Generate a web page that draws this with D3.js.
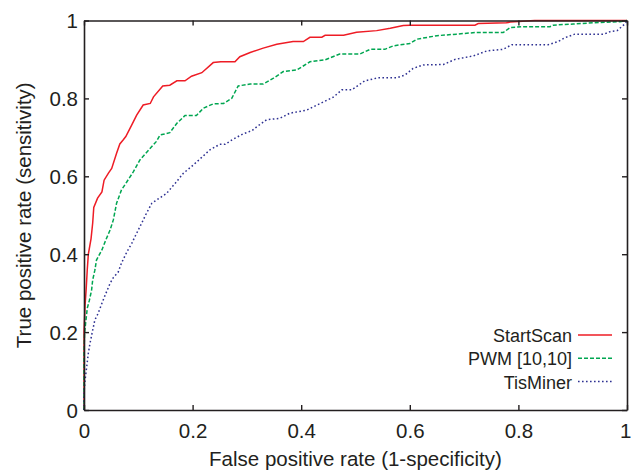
<!DOCTYPE html>
<html>
<head>
<meta charset="utf-8">
<script src="https://cdn.jsdelivr.net/npm/d3@7"></script>
<style>
  body { margin: 0; background: #fff; }
  svg { display: block; font-family: "Liberation Sans", Arial, sans-serif; }
</style>
</head>
<body>
<div id="chart"></div>
<script>
// ROC curves
const seriesNames = ["StartScan", "PWM [10,10]", "TisMiner"];

const startScanFpr = [0, 0, 0.002, 0.004, 0.006, 0.008, 0.013, 0.016, 0.018, 0.025, 0.033, 0.037, 0.045, 0.051, 0.060, 0.066, 0.072, 0.077, 0.088, 0.097, 0.109, 0.122, 0.128, 0.145, 0.158, 0.171, 0.186, 0.198, 0.217, 0.238, 0.252, 0.278, 0.287, 0.306, 0.330, 0.355, 0.385, 0.404, 0.416, 0.438, 0.444, 0.478, 0.502, 0.539, 0.564, 0.588, 0.600, 0.720, 0.726, 0.778, 0.785, 0.815, 0.83, 1];
const startScanTpr = [0, 0.20, 0.27, 0.31, 0.36, 0.40, 0.44, 0.48, 0.52, 0.544, 0.56, 0.59, 0.608, 0.62, 0.659, 0.683, 0.693, 0.702, 0.732, 0.757, 0.783, 0.787, 0.804, 0.832, 0.834, 0.845, 0.845, 0.857, 0.866, 0.892, 0.894, 0.894, 0.907, 0.918, 0.929, 0.939, 0.946, 0.946, 0.957, 0.957, 0.962, 0.962, 0.970, 0.974, 0.980, 0.987, 0.988, 0.988, 0.992, 0.994, 0.996, 0.999, 1, 1];

const pwmFpr = [0, 0, 0.001, 0.003, 0.006, 0.010, 0.014, 0.016, 0.020, 0.023, 0.033, 0.040, 0.048, 0.054, 0.060, 0.069, 0.079, 0.091, 0.103, 0.122, 0.133, 0.140, 0.158, 0.171, 0.186, 0.207, 0.220, 0.238, 0.257, 0.272, 0.284, 0.306, 0.330, 0.349, 0.367, 0.392, 0.416, 0.444, 0.471, 0.508, 0.527, 0.554, 0.570, 0.600, 0.613, 0.650, 0.686, 0.720, 0.772, 0.785, 0.809, 0.858, 0.864, 0.901, 0.938, 0.987, 1];
const pwmTpr = [0, 0.15, 0.197, 0.223, 0.261, 0.282, 0.308, 0.334, 0.359, 0.385, 0.411, 0.436, 0.462, 0.488, 0.531, 0.565, 0.586, 0.612, 0.642, 0.672, 0.689, 0.706, 0.712, 0.736, 0.756, 0.756, 0.775, 0.786, 0.787, 0.800, 0.832, 0.837, 0.837, 0.852, 0.869, 0.873, 0.894, 0.899, 0.914, 0.914, 0.926, 0.926, 0.935, 0.941, 0.952, 0.961, 0.965, 0.969, 0.969, 0.982, 0.984, 0.984, 0.988, 0.991, 0.994, 0.997, 1];

const tisMinerFpr = [0, 0, 0.002, 0.005, 0.008, 0.011, 0.016, 0.020, 0.026, 0.033, 0.039, 0.048, 0.054, 0.063, 0.069, 0.079, 0.088, 0.097, 0.106, 0.115, 0.125, 0.140, 0.152, 0.168, 0.183, 0.198, 0.214, 0.232, 0.250, 0.260, 0.272, 0.293, 0.309, 0.318, 0.336, 0.361, 0.379, 0.410, 0.435, 0.459, 0.475, 0.493, 0.517, 0.542, 0.576, 0.591, 0.606, 0.625, 0.662, 0.683, 0.717, 0.742, 0.772, 0.788, 0.855, 0.873, 0.886, 0.904, 0.958, 0.970, 0.982, 0.990, 0.996, 1];
const tisMinerTpr = [0, 0.044, 0.077, 0.111, 0.146, 0.171, 0.205, 0.231, 0.248, 0.274, 0.295, 0.325, 0.340, 0.354, 0.377, 0.406, 0.428, 0.454, 0.479, 0.505, 0.531, 0.545, 0.556, 0.582, 0.608, 0.625, 0.645, 0.668, 0.682, 0.682, 0.693, 0.709, 0.717, 0.727, 0.745, 0.749, 0.762, 0.770, 0.787, 0.803, 0.822, 0.822, 0.845, 0.853, 0.853, 0.860, 0.877, 0.886, 0.887, 0.900, 0.909, 0.922, 0.926, 0.938, 0.938, 0.946, 0.956, 0.965, 0.965, 0.972, 0.974, 0.984, 0.991, 1];

const xTicks = [0, 0.2, 0.4, 0.6, 0.8, 1];
const xTickLabels = ["0", "0.2", "0.4", "0.6", "0.8", "1"];
const yTicks = [0, 0.2, 0.4, 0.6, 0.8, 1];
const yTickLabels = ["0", "0.2", "0.4", "0.6", "0.8", "1"];

const xTitle = "False positive rate (1-specificity)";
const yTitle = "True positive rate (sensitivity)";

const colors = ["#ee1c25", "#00a651", "#2e3192"];
const dashes = [null, "4,2", "1.6,2.4"];

const width = 631, height = 470;
const margin = { top: 20.5, right: 4, bottom: 60, left: 84 };

const svg = d3.select("#chart")
  .append("svg")
  .attr("width", width)
  .attr("height", height);

const x = d3.scaleLinear().domain([0, 1]).range([margin.left, width - margin.right]);
const y = d3.scaleLinear().domain([0, 1]).range([height - margin.bottom, margin.top]);

const axisColor = "#231f20";

// bottom axis with labels, ticks pointing inward
const xAxis = svg.append("g")
  .attr("transform", `translate(0,${y(0)})`)
  .call(d3.axisBottom(x).tickValues(xTicks)
    .tickFormat((d, i) => xTickLabels[i])
    .tickSizeInner(-5).tickSizeOuter(0).tickPadding(13));

const yAxis = svg.append("g")
  .attr("transform", `translate(${x(0)},0)`)
  .call(d3.axisLeft(y).tickValues(yTicks)
    .tickFormat((d, i) => yTickLabels[i])
    .tickSizeInner(-5).tickSizeOuter(0).tickPadding(6));

// mirrored ticks on top and right
const xTop = svg.append("g")
  .attr("transform", `translate(0,${y(1)})`)
  .call(d3.axisTop(x).tickValues(xTicks).tickFormat("")
    .tickSizeInner(-5).tickSizeOuter(0));

const yRight = svg.append("g")
  .attr("transform", `translate(${x(1)},0)`)
  .call(d3.axisRight(y).tickValues(yTicks).tickFormat("")
    .tickSizeInner(-5).tickSizeOuter(0));

[xAxis, yAxis, xTop, yRight].forEach(g => {
  g.select(".domain").attr("stroke", axisColor).attr("stroke-width", 1.6);
  g.selectAll(".tick line").attr("stroke", axisColor).attr("stroke-width", 1.4);
  g.selectAll(".tick text")
    .attr("fill", axisColor)
    .style("font-size", "20.5px")
    .style("font-family", "'Liberation Sans', Arial, sans-serif");
});
yAxis.selectAll(".tick text").attr("dy", "0.36em");

// last x label sits against the right edge, keep it inside the page
xAxis.selectAll(".tick text")
  .filter(d => d === 1)
  .attr("text-anchor", "end")
  .attr("x", width - x(1));

// axis titles
svg.append("text")
  .attr("x", (x(0) + x(1)) / 2)
  .attr("y", 466)
  .attr("text-anchor", "middle")
  .attr("fill", axisColor)
  .style("font-size", "20.5px")
  .text(xTitle);

svg.append("text")
  .attr("transform", `translate(31,${(y(0) + y(1)) / 2}) rotate(-90)`)
  .attr("text-anchor", "middle")
  .attr("fill", axisColor)
  .style("font-size", "20.5px")
  .text(yTitle);

// curves
const curves = [
  d3.zip(startScanFpr, startScanTpr),
  d3.zip(pwmFpr, pwmTpr),
  d3.zip(tisMinerFpr, tisMinerTpr)
];

const line = d3.line()
  .x(d => x(d[0]))
  .y(d => y(d[1]));

const plot = svg.insert("g", ":first-child");
curves.forEach((pts, i) => {
  plot.append("path")
    .datum(pts)
    .attr("d", line)
    .attr("fill", "none")
    .attr("stroke", colors[i])
    .attr("stroke-width", 1.5)
    .attr("stroke-dasharray", dashes[i]);
});

// legend, bottom right inside the plot
const legend = svg.selectAll(".legend")
  .data(seriesNames)
  .enter()
  .append("g")
  .attr("class", "legend")
  .attr("transform", (d, i) => `translate(0,${335 + i * 23.3})`);

legend.append("line")
  .attr("x1", 578)
  .attr("x2", 612)
  .attr("stroke", (d, i) => colors[i])
  .attr("stroke-width", 1.5)
  .attr("stroke-dasharray", (d, i) => dashes[i]);

legend.append("text")
  .attr("x", 572)
  .attr("y", 7)
  .attr("text-anchor", "end")
  .attr("fill", axisColor)
  .style("font-size", "18px")
  .text(d => d);
</script>
</body>
</html>
